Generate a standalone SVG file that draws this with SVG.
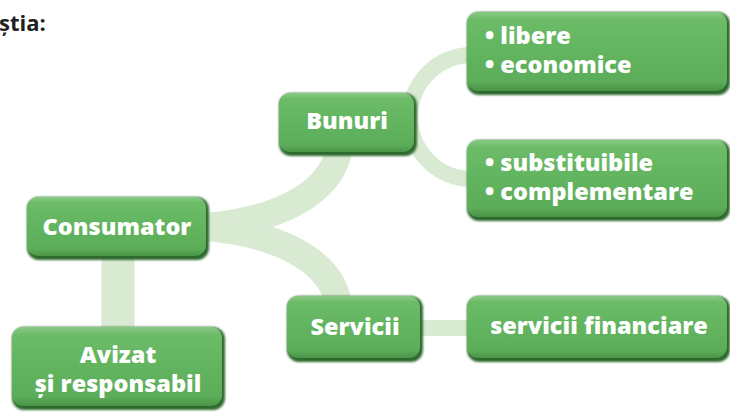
<svg xmlns="http://www.w3.org/2000/svg" width="730" height="412" viewBox="0 0 730 412">
<defs>
<linearGradient id="face" x1="0" y1="0" x2="0" y2="1">
<stop offset="0" stop-color="#8acb86"/>
<stop offset="0.1" stop-color="#6cbb68"/>
<stop offset="0.5" stop-color="#62b45f"/>
<stop offset="0.88" stop-color="#5cad59"/>
<stop offset="1" stop-color="#4a9447"/>
</linearGradient>
<filter id="soft" x="-5%" y="-5%" width="110%" height="115%">
<feGaussianBlur stdDeviation="0.9"/>
</filter>
<style>
.edge{fill:#2e6a2d;filter:url(#soft)}
.face{fill:url(#face)}
.lbl{font-family:"Open Sans","Liberation Sans",sans-serif;font-weight:800;font-size:23.5px;fill:#ffffff}
.mid{text-anchor:middle}
.band{fill:none;stroke:#d9ead3;stroke-linecap:butt}
.title{font-family:"Open Sans","Liberation Sans",sans-serif;font-weight:700;font-size:22px;fill:#231f20}
</style>
</defs>
<text class="title" x="-1" y="31">știa:</text>
<g id="connectors">
<path class="band" stroke-width="33" d="M118 255 V332"/>
<path class="band" stroke-width="27" d="M200 227 C272 222 330 196 339 150"/>
<path class="band" stroke-width="27" d="M200 227 C272 232 330 258 338 302"/>
<path class="band" stroke-width="16" d="M472 55 A62 62 0 0 0 472 179"/>
<path class="band" stroke-width="16" d="M418 328 H470"/>
</g>
<g id="bunuri">
<rect class="edge" x="279" y="93" width="138" height="63" rx="12"/>
<rect class="face" x="279" y="93" width="135" height="59" rx="11"/>
<text class="lbl mid" x="347" y="129">Bunuri</text>
</g>
<g id="libere">
<rect class="edge" x="467" y="12" width="263" height="83" rx="12"/>
<rect class="face" x="467" y="12" width="260" height="79" rx="11"/>
<text class="lbl" x="485" y="44">• libere</text>
<text class="lbl" x="485" y="73">• economice</text>
</g>
<g id="substituibile">
<rect class="edge" x="467" y="140" width="263" height="81" rx="12"/>
<rect class="face" x="467" y="140" width="260" height="77" rx="11"/>
<text class="lbl" x="485" y="171">• substituibile</text>
<text class="lbl" x="485" y="200">• complementare</text>
</g>
<g id="consumator">
<rect class="edge" x="27" y="197" width="182" height="63" rx="12"/>
<rect class="face" x="27" y="197" width="179" height="59" rx="11"/>
<text class="lbl mid" x="117" y="235">Consumator</text>
</g>
<g id="servicii">
<rect class="edge" x="287" y="296" width="136" height="66" rx="12"/>
<rect class="face" x="287" y="296" width="133" height="62" rx="11"/>
<text class="lbl mid" x="355" y="335">Servicii</text>
</g>
<g id="financiare">
<rect class="edge" x="467" y="296" width="263" height="66" rx="12"/>
<rect class="face" x="467" y="296" width="260" height="62" rx="11"/>
<text class="lbl mid" x="599" y="334">servicii financiare</text>
</g>
<g id="avizat">
<rect class="edge" x="12" y="327" width="213" height="83" rx="12"/>
<rect class="face" x="12" y="327" width="210" height="79" rx="11"/>
<text class="lbl mid" x="118" y="363">Avizat</text>
<text class="lbl mid" x="118" y="392">și responsabil</text>
</g>
</svg>
